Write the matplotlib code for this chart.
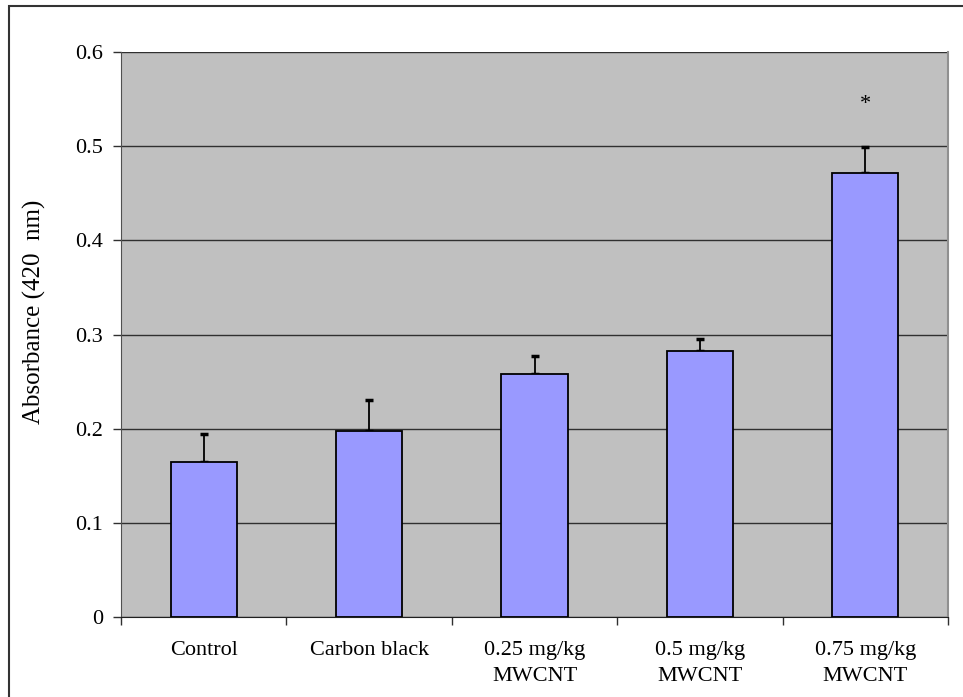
import matplotlib.pyplot as plt
from matplotlib.patches import Rectangle

# absorbance means and upper error (SD) per treatment group
groups = ["Control", "Carbon black", "0.25 mg/kg\nMWCNT", "0.5 mg/kg\nMWCNT", "0.75 mg/kg\nMWCNT"]
absorbance = [0.165, 0.198, 0.258, 0.282, 0.472]
error_up = [0.029, 0.032, 0.019, 0.013, 0.027]
significant = [False, False, False, False, True]

plt.rcParams['font.family'] = ['Liberation Serif', 'DejaVu Serif']

fig = plt.figure(figsize=(9.63, 6.97), dpi=100)
ax = fig.add_axes([121 / 963, 1 - 617 / 697, (948 - 121) / 963, (617 - 52) / 697])
ax.set_facecolor("#c0c0c0")

x = range(len(groups))
ax.bar(x, absorbance, width=0.4, color="#9999ff", edgecolor="black", linewidth=1.3, zorder=3)
ax.errorbar(x, absorbance, yerr=[[0] * len(x), error_up], fmt="none", ecolor="black",
            elinewidth=1.3, capsize=3, capthick=2.5, zorder=2)

for i, (v, e, s) in enumerate(zip(absorbance, error_up, significant)):
    if s:
        ax.text(i, v + e + 0.045, "*", ha="center", va="center", fontsize=16)

ax.set_xlim(-0.5, len(groups) - 0.5)
ax.set_ylim(0, 0.6)
ax.set_yticks([0, 0.1, 0.2, 0.3, 0.4, 0.5, 0.6])
ax.set_yticklabels(["0", "0.1", "0.2", "0.3", "0.4", "0.5", "0.6"])
ax.yaxis.grid(True, color="#303030", linewidth=1.0, zorder=1)
ax.set_axisbelow(True)

ax.set_xticks(x)
ax.set_xticklabels(groups, linespacing=1.55)
ax.set_xticks([i - 0.5 for i in range(len(groups) + 1)], minor=True)
ax.tick_params(axis="x", which="major", length=0, pad=17, labelsize=16)
ax.tick_params(axis="x", which="minor", length=6, width=1, color="#303030", direction="out")
ax.tick_params(axis="y", length=6, width=1, color="#303030", labelsize=16, pad=7)

ax.spines["top"].set_visible(False)
ax.spines["left"].set_color("#505050")
ax.spines["bottom"].set_color("#202020")
ax.spines["right"].set_color("#909090")
ax.spines["right"].set_linewidth(1.5)

ax.set_ylabel("Absorbance (420  nm)", fontsize=18)
ax.yaxis.set_label_coords(-0.091, 0.54)

# frame round the figure
fig.patches.append(Rectangle((9 / 963, -0.1), 1.2, 1 - 6 / 697 + 0.1, transform=fig.transFigure,
                             fill=False, edgecolor="#333333", linewidth=1.5))

fig.savefig("out.png", dpi=100)
